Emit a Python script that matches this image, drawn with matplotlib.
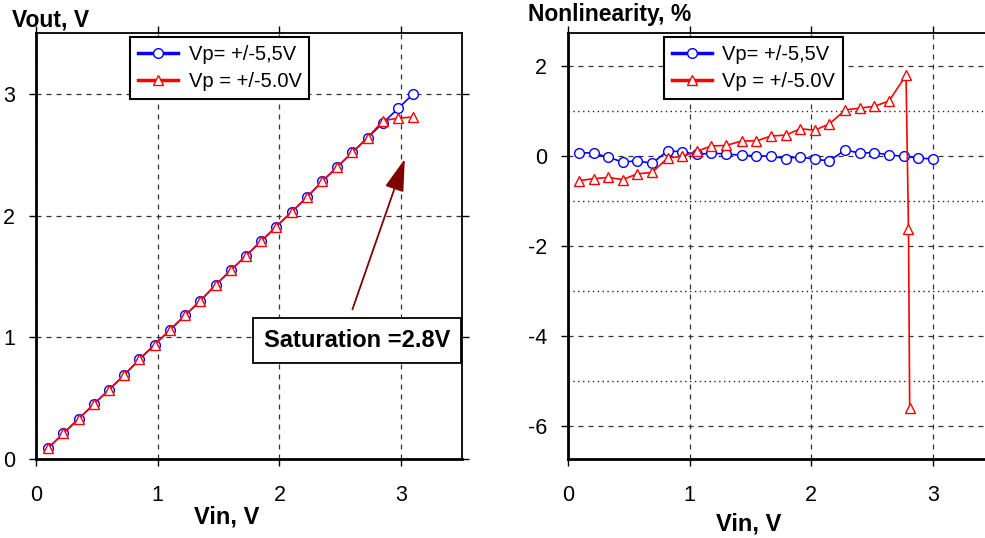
import numpy as np
import matplotlib
matplotlib.use("Agg")
import matplotlib.pyplot as plt
from matplotlib.lines import Line2D

plt.rcParams['font.family'] = ['Liberation Sans', 'DejaVu Sans']
plt.rcParams['axes.unicode_minus'] = False

# input voltage, V
vin = [0.10, 0.225, 0.35, 0.475, 0.60, 0.725, 0.85, 0.975, 1.10, 1.225, 1.35, 1.475, 1.60,
       1.725, 1.85, 1.975, 2.10, 2.225, 2.35, 2.475, 2.60, 2.725, 2.85, 2.975, 3.10]
# output voltage, V
vout_55 = [0.09, 0.21, 0.33, 0.45, 0.57, 0.69, 0.82, 0.94, 1.06, 1.18, 1.30, 1.43, 1.55,
           1.67, 1.79, 1.91, 2.03, 2.15, 2.28, 2.40, 2.52, 2.64, 2.76, 2.88, 3.00]
vout_50 = [0.09, 0.21, 0.33, 0.45, 0.57, 0.69, 0.82, 0.94, 1.06, 1.18, 1.30, 1.43, 1.55,
           1.67, 1.79, 1.91, 2.03, 2.15, 2.28, 2.40, 2.52, 2.64, 2.78, 2.80, 2.81]
# nonlinearity, %
nl_55 = [0.08, 0.07, -0.02, -0.13, -0.10, -0.16, 0.12, 0.10, 0.04, 0.07, 0.05, 0.02, 0.01,
         0.0, -0.05, -0.01, -0.07, -0.10, 0.14, 0.07, 0.08, 0.03, 0.0, -0.04, -0.06]
nl_50 = [-0.54, -0.50, -0.47, -0.52, -0.39, -0.36, -0.04, 0.0, 0.11, 0.23, 0.24, 0.34, 0.34,
         0.45, 0.47, 0.61, 0.58, 0.72, 1.03, 1.07, 1.11, 1.23, 1.80, -1.61, -5.60]

labels = ['Vp= +/-5,5V', 'Vp = +/-5.0V']
blue = '#0000ff'
red = '#ff0000'

fig = plt.figure(figsize=(9.85, 5.38), dpi=100)
ax1 = fig.add_axes([36/985, 79/538, 426/985, 426/538])
ax2 = fig.add_axes([568/985, 79/538, 425.6/985, 426/538])

mk = dict(markersize=7, markerfacecolor='white', markeredgewidth=1)

ax1.plot(vin, vout_55, '-o', color=blue, lw=1.2, **mk)
ax1.plot(vin, vout_50, '-^', color=red, lw=1.2, **mk)
ax2.plot(vout_55, nl_55, '-o', color=blue, lw=1.2, **mk)
ax2.plot(vout_50, nl_50, '-^', color=red, lw=1.2, **mk)

ax1.set_xlim(0, 3.5)
ax1.set_ylim(0, 3.5)
ax1.set_xticks([0, 1, 2, 3])
ax1.set_yticks([0, 1, 2, 3])

ax2.set_xlim(0, 3.5)
ax2.set_ylim(-6.73, 2.74)
ax2.set_xticks([0, 1, 2, 3])
ax2.set_yticks([-6, -4, -2, 0, 2])
ax2.set_yticks([-5, -3, -1, 1], minor=True)
ax2.tick_params(which='minor', length=0)
ax2.grid(True, which='minor', axis='y', color='#222222', linestyle=(0, (1, 2.5)), lw=1)

for ax in (ax1, ax2):
    ax.grid(True, which='major', color='#333333', linestyle=(0, (4, 4)), lw=0.9)
    ax.set_axisbelow(True)
    ax.tick_params(which='major', direction='out', length=5, width=1, labelsize=15.5,
                   top=True, right=True)
    ax.tick_params(axis='y', pad=10)
    ax.tick_params(axis='x', pad=14)
    for s in ax.spines.values():
        s.set_linewidth(1.3)
    ax.spines['left'].set_linewidth(2)
    ax.spines['bottom'].set_linewidth(2)
    ax.set_xlabel('Vin, V', fontsize=17, fontweight='bold')

ax1.xaxis.set_label_coords(0.448, -0.11)
ax2.xaxis.set_label_coords(0.425, -0.125)

handles = [Line2D([], [], color=blue, lw=2.5, marker='o', **mk),
           Line2D([], [], color=red, lw=2.5, marker='^', **mk)]
for ax, x0 in ((ax1, 0.221), (ax2, 0.2256)):
    leg = ax.legend(handles, labels, loc='upper left', bbox_to_anchor=(x0, 0.99),
                    borderaxespad=0, fontsize=14.5, fancybox=False, framealpha=1,
                    handlelength=2.0, handletextpad=0.5, labelspacing=0.4,
                    borderpad=0.4)
    leg.get_frame().set_edgecolor('black')
    leg.get_frame().set_linewidth(1.5)

ax1.annotate('', xy=(3.03, 2.465), xytext=(2.60, 1.23),
             arrowprops=dict(arrowstyle='-|>,head_length=1.0,head_width=0.3',
                             color='#800000', lw=1.3, mutation_scale=20,
                             shrinkA=0, shrinkB=0))
ax1.text(2.638, 0.974, 'Saturation =2.8V', fontsize=17, fontweight='bold',
         ha='center', va='center',
         bbox=dict(boxstyle='square,pad=0.45', facecolor='white', edgecolor='black', lw=1.3))

fig.text(12/985, 1 - 27/538, 'Vout, V', fontsize=16.5, fontweight='bold', va='baseline')
fig.text(528/985, 1 - 21/538, 'Nonlinearity, %', fontsize=16.5, fontweight='bold', va='baseline')

fig.savefig('out.png', dpi=100)
